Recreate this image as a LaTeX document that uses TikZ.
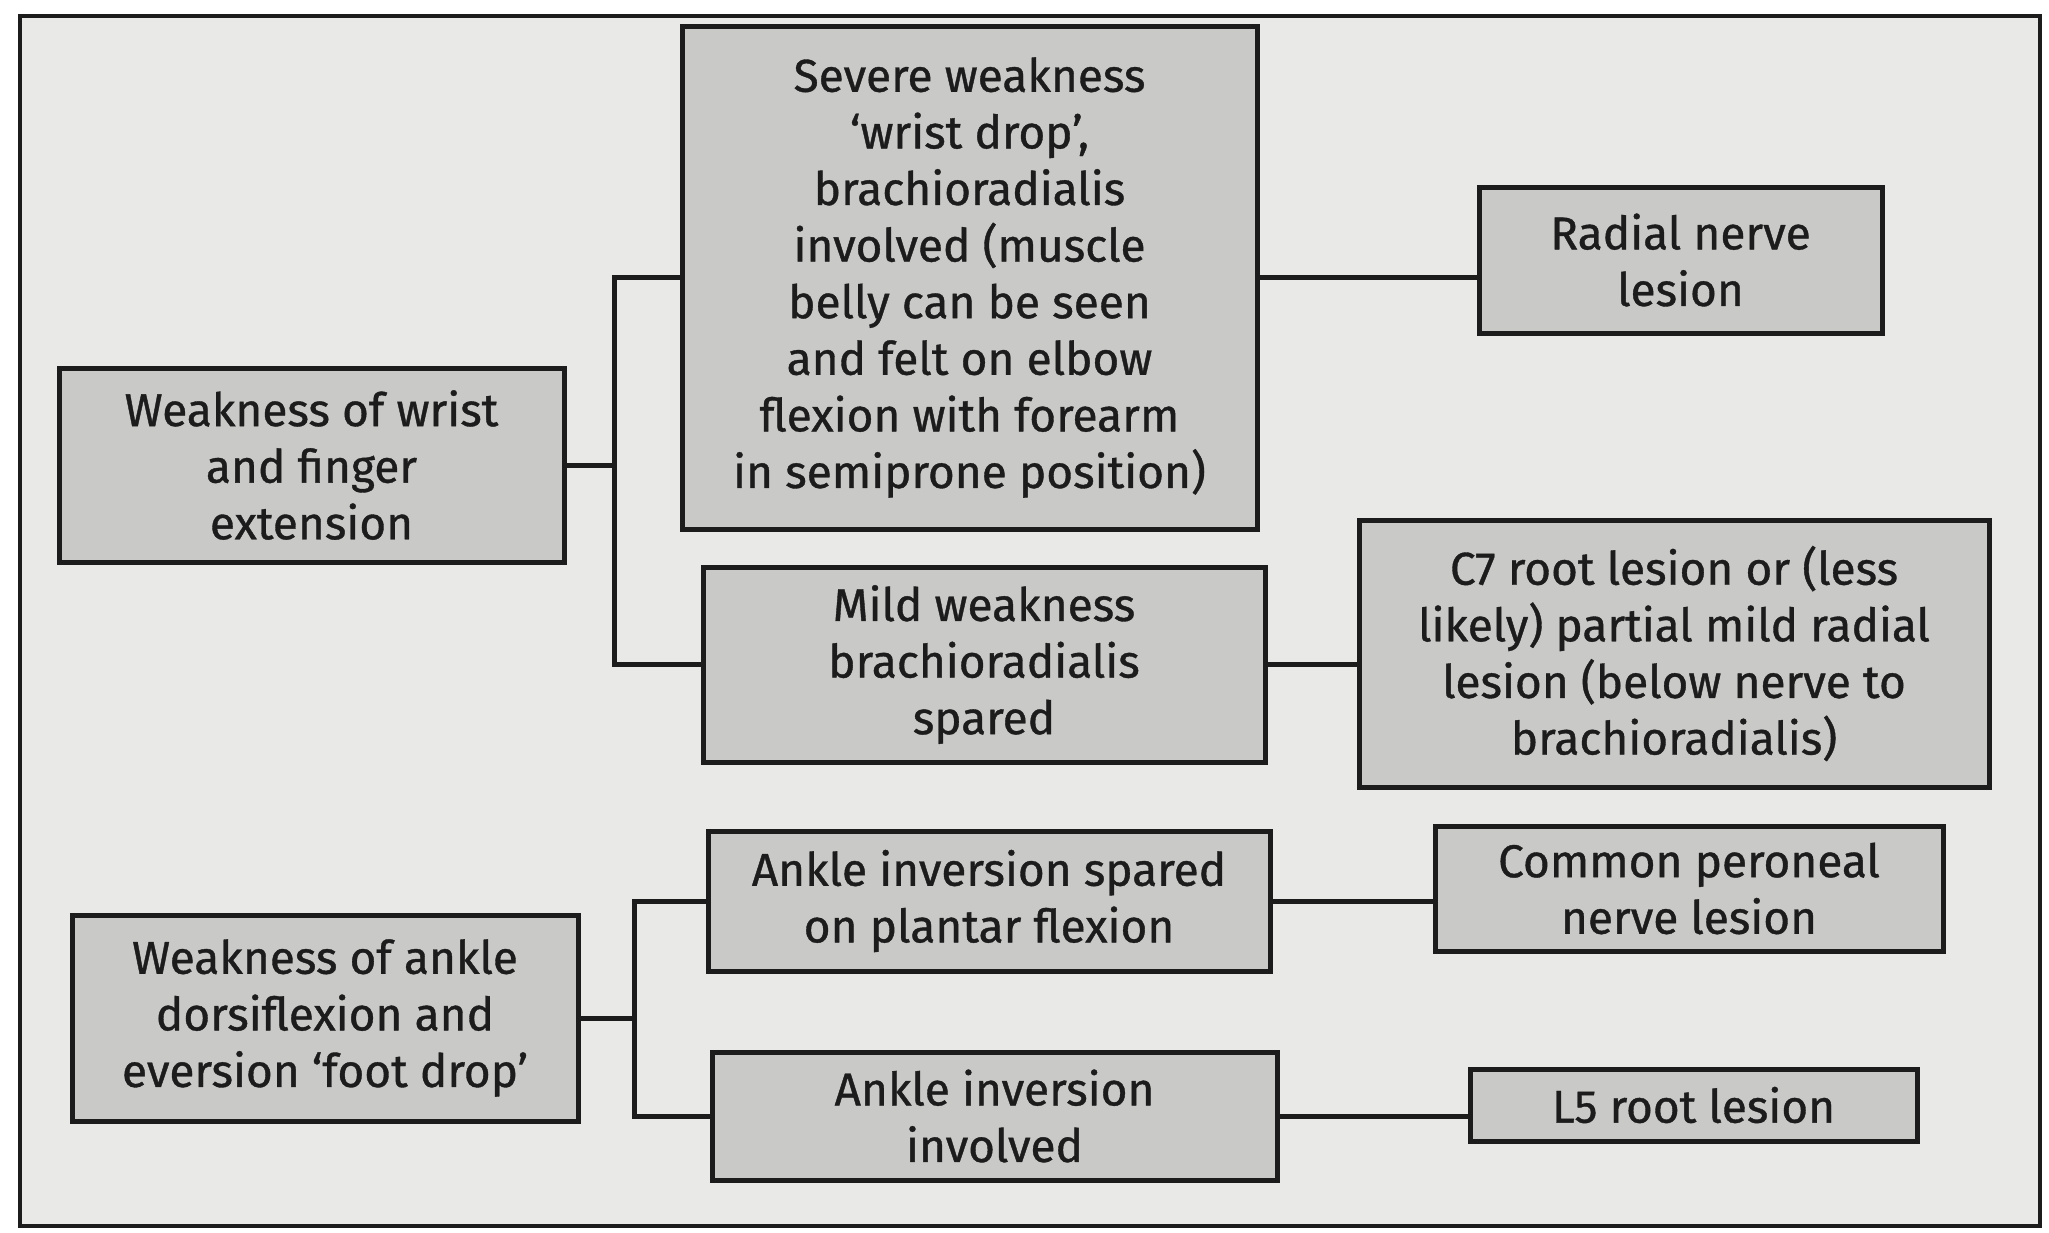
\documentclass[tikz,border=0pt]{standalone}
\usepackage{fontspec}
\setmainfont{Fira Sans}
\newfontfamily\boxfont{Fira Sans}[FakeBold=0.8]
\definecolor{pagebg}{HTML}{E9E9E7}
\definecolor{boxfill}{HTML}{C9C9C7}
\definecolor{ink}{HTML}{1C1C1C}
\begin{document}
\begin{tikzpicture}[x=1pt,y=-1pt,
  box/.style={draw=ink,line width=5pt,fill=boxfill,align=center,inner sep=0pt,
    font=\boxfont\fontsize{46}{56.6}\selectfont\addfontfeature{FakeBold=0.8},text=ink},
  link/.style={draw=ink,line width=5pt}]
\fill[white] (0,0) rectangle (2049,1232);
\useasboundingbox (0,0) rectangle (2049,1232);
\fill[pagebg] (20,16) rectangle (2040,1226);
\draw[ink,line width=4pt] (20,16) rectangle (2040,1226);
% boxes (x1,y1)-(x2,y2)
\node[box,minimum width=505pt,minimum height=194pt] (b1) at (311.5,465) {Weakness of wrist\\and finger\\extension};
\node[box,minimum width=575pt,minimum height=503pt] (b2) at (969.5,277.5) {Severe weakness\\‘wrist drop’,\\brachioradialis\\involved (muscle\\belly can be seen\\and felt on elbow\\flexion with forearm\\in semiprone position)};
\node[box,minimum width=403pt,minimum height=146pt] (b3) at (1680.5,260) {Radial nerve\\lesion};
\node[box,minimum width=562pt,minimum height=195pt] (b4) at (984,664.5) {Mild weakness\\brachioradialis\\spared};
\node[box,minimum width=630pt,minimum height=267pt] (b5) at (1674,653.5) {C7 root lesion or (less\\likely) partial mild radial\\lesion (below nerve to\\brachioradialis)};
\node[box,minimum width=562pt,minimum height=140pt] (b6) at (989,901) {Ankle inversion spared\\on plantar flexion};
\node[box,minimum width=508pt,minimum height=125pt] (b7) at (1689,888.5) {Common peroneal\\nerve lesion};
\node[box,minimum width=506pt,minimum height=206pt] (b8) at (325,1018) {Weakness of ankle\\dorsiflexion and\\eversion ‘foot drop’};
\node[box,minimum width=565pt,minimum height=128pt] (b9) at (994.5,1116) {Ankle inversion\\involved};
\node[box,minimum width=447pt,minimum height=72pt] (b10) at (1693.5,1105) {L5 root lesion};
% junctions
\coordinate (j1) at (614,0);
\coordinate (j2) at (634,0);
\draw[link] (b1.east) -- (b1.east -| j1);
\draw[link] (b2.west) -- (b2.west -| j1) -- (b4.west -| j1) -- (b4.west);
\draw[link] (b2.east) -- (b2.east -| b3.west);
\draw[link] (b4.east) -- (b4.east -| b5.west);
\draw[link] (b8.east) -- (b8.east -| j2);
\draw[link] (b6.west) -- (b6.west -| j2) -- (b9.west -| j2) -- (b9.west);
\draw[link] (b6.east) -- (b6.east -| b7.west);
\draw[link] (b9.east) -- (b9.east -| b10.west);
\end{tikzpicture}
\end{document}
